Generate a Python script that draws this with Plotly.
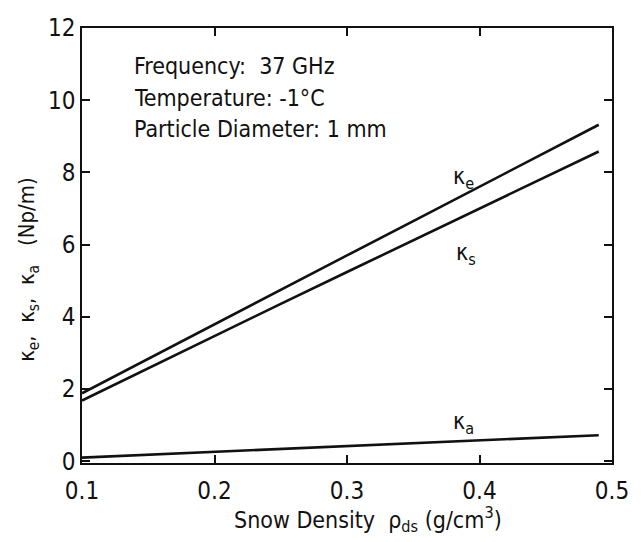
import plotly.graph_objects as go

# Snow density (g/cm^3) and the extinction, scattering and absorption coefficients (Np/m)
density = [0.10, 0.15, 0.20, 0.25, 0.30, 0.35, 0.40, 0.45, 0.49]
kappa_e = [1.88, 2.84, 3.80, 4.75, 5.70, 6.65, 7.60, 8.55, 9.32]
kappa_s = [1.68, 2.58, 3.47, 4.36, 5.24, 6.12, 7.00, 7.88, 8.58]
kappa_a = [0.10, 0.18, 0.26, 0.34, 0.42, 0.50, 0.58, 0.66, 0.72]

x_ticks = [0.1, 0.2, 0.3, 0.4, 0.5]
y_ticks = [0, 2, 4, 6, 8, 10, 12]

FONT = "Liberation Sans Narrow, DejaVu Sans Condensed, Arial Narrow, sans-serif"
INK = "#111111"

fig = go.Figure()
for ys in (kappa_e, kappa_s, kappa_a):
    fig.add_trace(go.Scatter(x=density, y=ys, mode="lines",
                             line=dict(color=INK, width=2.6),
                             showlegend=False, hoverinfo="skip"))

# Curve labels
for txt, xv, yv in [("κ<sub>e</sub>", 0.388, 7.85),
                    ("κ<sub>s</sub>", 0.390, 5.75),
                    ("κ<sub>a</sub>", 0.388, 1.05)]:
    fig.add_annotation(x=xv, y=yv, text=txt, showarrow=False,
                       font=dict(family=FONT, size=23, color=INK))

# Conditions block
for i, line in enumerate(["Frequency:  37 GHz", "Temperature: -1°C",
                          "Particle Diameter: 1 mm"]):
    fig.add_annotation(x=0.138, y=10.95 - 0.88 * i, text=line, showarrow=False,
                       xanchor="left", yanchor="middle",
                       font=dict(family=FONT, size=23, color=INK))

# Axis titles
fig.add_annotation(xref="paper", yref="paper", x=0.539, y=-0.131,
                   text="Snow Density  ρ<sub>ds</sub> (g/cm<sup>3</sup>)",
                   showarrow=False, xanchor="center", yanchor="middle",
                   font=dict(family=FONT, size=23, color=INK))
fig.add_annotation(xref="paper", yref="y", x=-0.1,
                   y=5.3, text="κ<sub>e</sub>,  κ<sub>s</sub>,  κ<sub>a</sub>   (Np/m)",
                   showarrow=False, textangle=-90, xanchor="center", yanchor="middle",
                   font=dict(family=FONT, size=22, color=INK))

axis_common = dict(showgrid=False, zeroline=False, showline=True,
                   linecolor=INK, linewidth=1.5, mirror="ticks",
                   ticks="inside", ticklen=8, tickwidth=1.5, tickcolor=INK,
                   tickfont=dict(family=FONT, size=24, color=INK))

fig.update_xaxes(range=[0.1, 0.5], tickvals=x_ticks,
                 ticktext=[f"{v:.1f}" for v in x_ticks],
                 ticklabelstandoff=5, **axis_common)
fig.update_yaxes(range=[-0.05, 12], tickvals=y_ticks, **axis_common)

fig.update_layout(width=641, height=542,
                  margin=dict(l=82, r=19, t=28, b=79),
                  paper_bgcolor="white", plot_bgcolor="white")

fig.write_html("out.html")
